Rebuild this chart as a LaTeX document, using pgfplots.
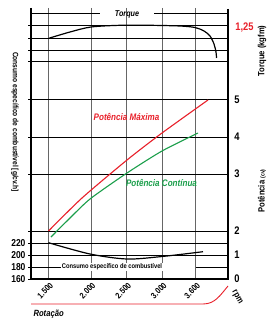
\documentclass[border=0pt]{standalone}
\usepackage{pgfplots}
\pgfplotsset{compat=1.18}
\usepackage{fontspec}
\setmainfont{Liberation Sans}[FakeStretch=0.85]
\definecolor{pred}{HTML}{E8202A}
\definecolor{pgreen}{HTML}{1A9E4A}
\newcommand{\fs}[1]{\fontsize{#1}{#1}\selectfont}
\begin{document}
\begin{tikzpicture}[font=\bfseries]
\begin{axis}[
  scale only axis, width=197pt, height=271pt,
  xmin=31, xmax=228, ymin=8, ymax=279, y dir=reverse,
  clip=false,
  axis line style={draw=none},
  xtick={48.7,91,126.7,162.3,195.7},
  xticklabels={1.500,2.000,2.500,3.000,3.600},
  xtick pos=bottom, ytick pos=left,
  x tick style={draw=none},
  xmajorgrids, ymajorgrids,
  major x grid style={black!60, line width=1pt},
  major y grid style={black, line width=1pt},
  x tick label style={rotate=45, anchor=north east, font=\bfseries\fs{8.5}, xshift=4pt, yshift=3pt},
  ytick={26,38.5,50.5,62,100,137,174,231,243,255,279},
  yticklabels={,,,,,,,,220,200,160},
  extra y ticks={267}, extra y tick labels={180},
  extra y tick style={grid=none},
  y tick style={black, line width=1pt},
  major tick length=3pt, tick align=outside,
  y tick label style={font=\bfseries\fs{10}, xshift=1pt},
]
% frame
\draw[black, line width=1.3pt] (axis cs:31,8) -- (axis cs:31,279);
\draw[black, line width=1.3pt] (axis cs:228,9) -- (axis cs:228,279);
\draw[black, line width=1.8pt] (axis cs:30.4,279) -- (axis cs:228.6,279);
% partial lines
\draw[black, line width=1pt] (axis cs:31,14) -- (axis cs:100,14);
\draw[black, line width=1pt] (axis cs:154,14) -- (axis cs:228,14);
\draw[black, line width=1pt] (axis cs:31,267) -- (axis cs:62,267);
\draw[black, line width=1pt] (axis cs:196,267) -- (axis cs:228,267);

% Torque
\addplot[black, line width=1.2pt, smooth, tension=0.5] coordinates {
 (48.7,38.3) (70,32) (91,27) (120,25.3) (150,25.3)
 (180,26) (195,27.5) (204,31) (210,36) (214,44) (216,52) (216.5,58)};
% Potencia maxima
\addplot[pred, line width=1.1pt, smooth, tension=0.4] coordinates {
 (48.5,231) (82,198) (127,160) (162,133) (208,100)};
% Potencia continua
\addplot[pgreen, line width=1.1pt, smooth, tension=0.4] coordinates {
 (51,237) (68,220) (90,199) (127,173) (162,151) (198,133)};
% Consumo especifico
\addplot[black, line width=1.2pt, smooth, tension=0.5] coordinates {
 (48.5,242.7) (90,254) (127,259) (162,256.5) (203,251.7)};

% texts
\node[font=\bfseries\itshape\fs{8.5}] at (axis cs:127,14) {Torque};
\node[pred, font=\bfseries\itshape\fs{9.5}] at (axis cs:126.5,116.5) {Potência Máxima};
\node[pgreen, font=\bfseries\itshape\fs{9.5}] at (axis cs:161.5,182.5) {Potência Contínua};
\node[font=\bfseries\fs{6.8}, fill=white, inner sep=1pt] at (axis cs:112,267) {Consumo específico de combustível};

\node[font=\bfseries\fs{11}] at (axis cs:237,100) {5};
\node[font=\bfseries\fs{11}] at (axis cs:237,137) {4};
\node[font=\bfseries\fs{11}] at (axis cs:237,174) {3};
\node[font=\bfseries\fs{11}] at (axis cs:237,231) {2};
\node[font=\bfseries\fs{11}] at (axis cs:237,255) {1};
\node[font=\bfseries\fs{11}] at (axis cs:237,279) {0};
\node[pred, font=\bfseries\fs{11}] at (axis cs:244.5,28) {1,25};
\node[rotate=90, font=\bfseries\fs{9}] at (axis cs:262,51) {Torque (kgfm)};
\node[rotate=90, font=\bfseries\fs{9}] at (axis cs:262,191) {Potência {\fs{6}(cv)}};
\node[rotate=-90, font=\bfseries\fs{7.8}] at (axis cs:15,122) {Consumo específico de combustível [g/cv.h]};
\node[font=\bfseries\itshape\fs{9}, anchor=west] at (axis cs:30,314) {Rotação};
\node[rotate=-60, font=\bfseries\fs{9}] at (axis cs:237,297) {rpm};
\draw[pred, line width=0.9pt] (axis cs:31,304) -- (axis cs:203,304) to[out=0,in=-130] (axis cs:228,286);

\coordinate (TL) at (axis cs:0,0);
\coordinate (BR) at (axis cs:267,320);
\end{axis}
\pgfresetboundingbox
\path (TL) rectangle (BR);
\end{tikzpicture}
\end{document}
